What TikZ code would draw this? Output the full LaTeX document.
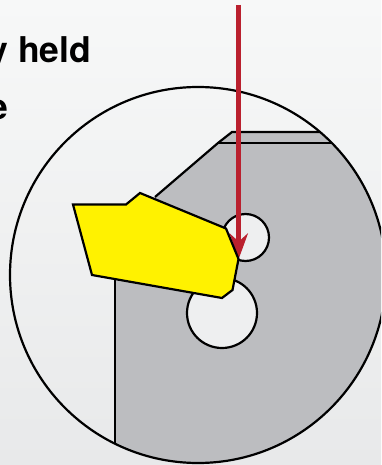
\documentclass[tikz,border=0pt]{standalone}
\usepackage{fontspec}
\setmainfont{TeX Gyre Heros}
\usetikzlibrary{arrows.meta}
\definecolor{bgtop}{HTML}{F7F8F8}
\definecolor{bgbottom}{HTML}{E8E9EA}
\definecolor{toolgray}{HTML}{BCBDC0}
\definecolor{insertyellow}{HTML}{FFF200}
\definecolor{forcered}{HTML}{BA202E}
\definecolor{holefill}{HTML}{EEEFF0}
\tikzset{
  outline/.style={draw=black, line width=1.25pt, line join=miter},
  caption/.style={font=\bfseries\fontsize{20.2pt}{24pt}\selectfont, inner sep=0pt},
  forceline/.style={draw=forcered, line width=2.7pt, -{Stealth[length=14.5pt,width=10.4pt,inset=4.6pt]}}
}
\begin{document}
\begin{tikzpicture}[x=0.02cm,y=-0.02cm]
\useasboundingbox (0,0) rectangle (381,465);
\clip (0,0) rectangle (381,465);
\shade[top color=bgtop, bottom color=bgbottom] (0,0) rectangle (381,465);
\node[caption, anchor=base east] (heldtext) at (91.5,62.5) {y held};
\node[caption, anchor=base east] (etext) at (9,119.5) {e};
\node[caption, anchor=base east] (colontext) at (2.5,399) {:};
\begin{scope}
\clip (198,275) circle (188);
\fill[toolgray] (232,132) -- (400,132) -- (400,480) -- (115,480) -- (115,250) -- (155,197) -- (218,143) -- cycle;
\draw[outline] (115,480) -- (115,250);
\draw[outline] (155,197) -- (218,143) -- (232,132) -- (400,132);
\draw[outline] (218,143) -- (400,143);
\end{scope}
\draw[outline] (198,275) circle (188);
\draw[outline, fill=holefill] (245.5,237.5) circle (23.5);
\draw[outline, fill=holefill] (222,313) circle (35);
\coordinate (forcestart) at (238.7,5);
\coordinate (forcetip) at (238.7,259);
\draw[forceline] (forcestart) -- (forcetip);
\draw[outline, fill=insertyellow] (73,204.5) -- (126,204.5) -- (140,193) -- (226,228.5) -- (238.5,259) -- (232.5,290) -- (222,298) -- (92,275) -- cycle;
\end{tikzpicture}
\end{document}
